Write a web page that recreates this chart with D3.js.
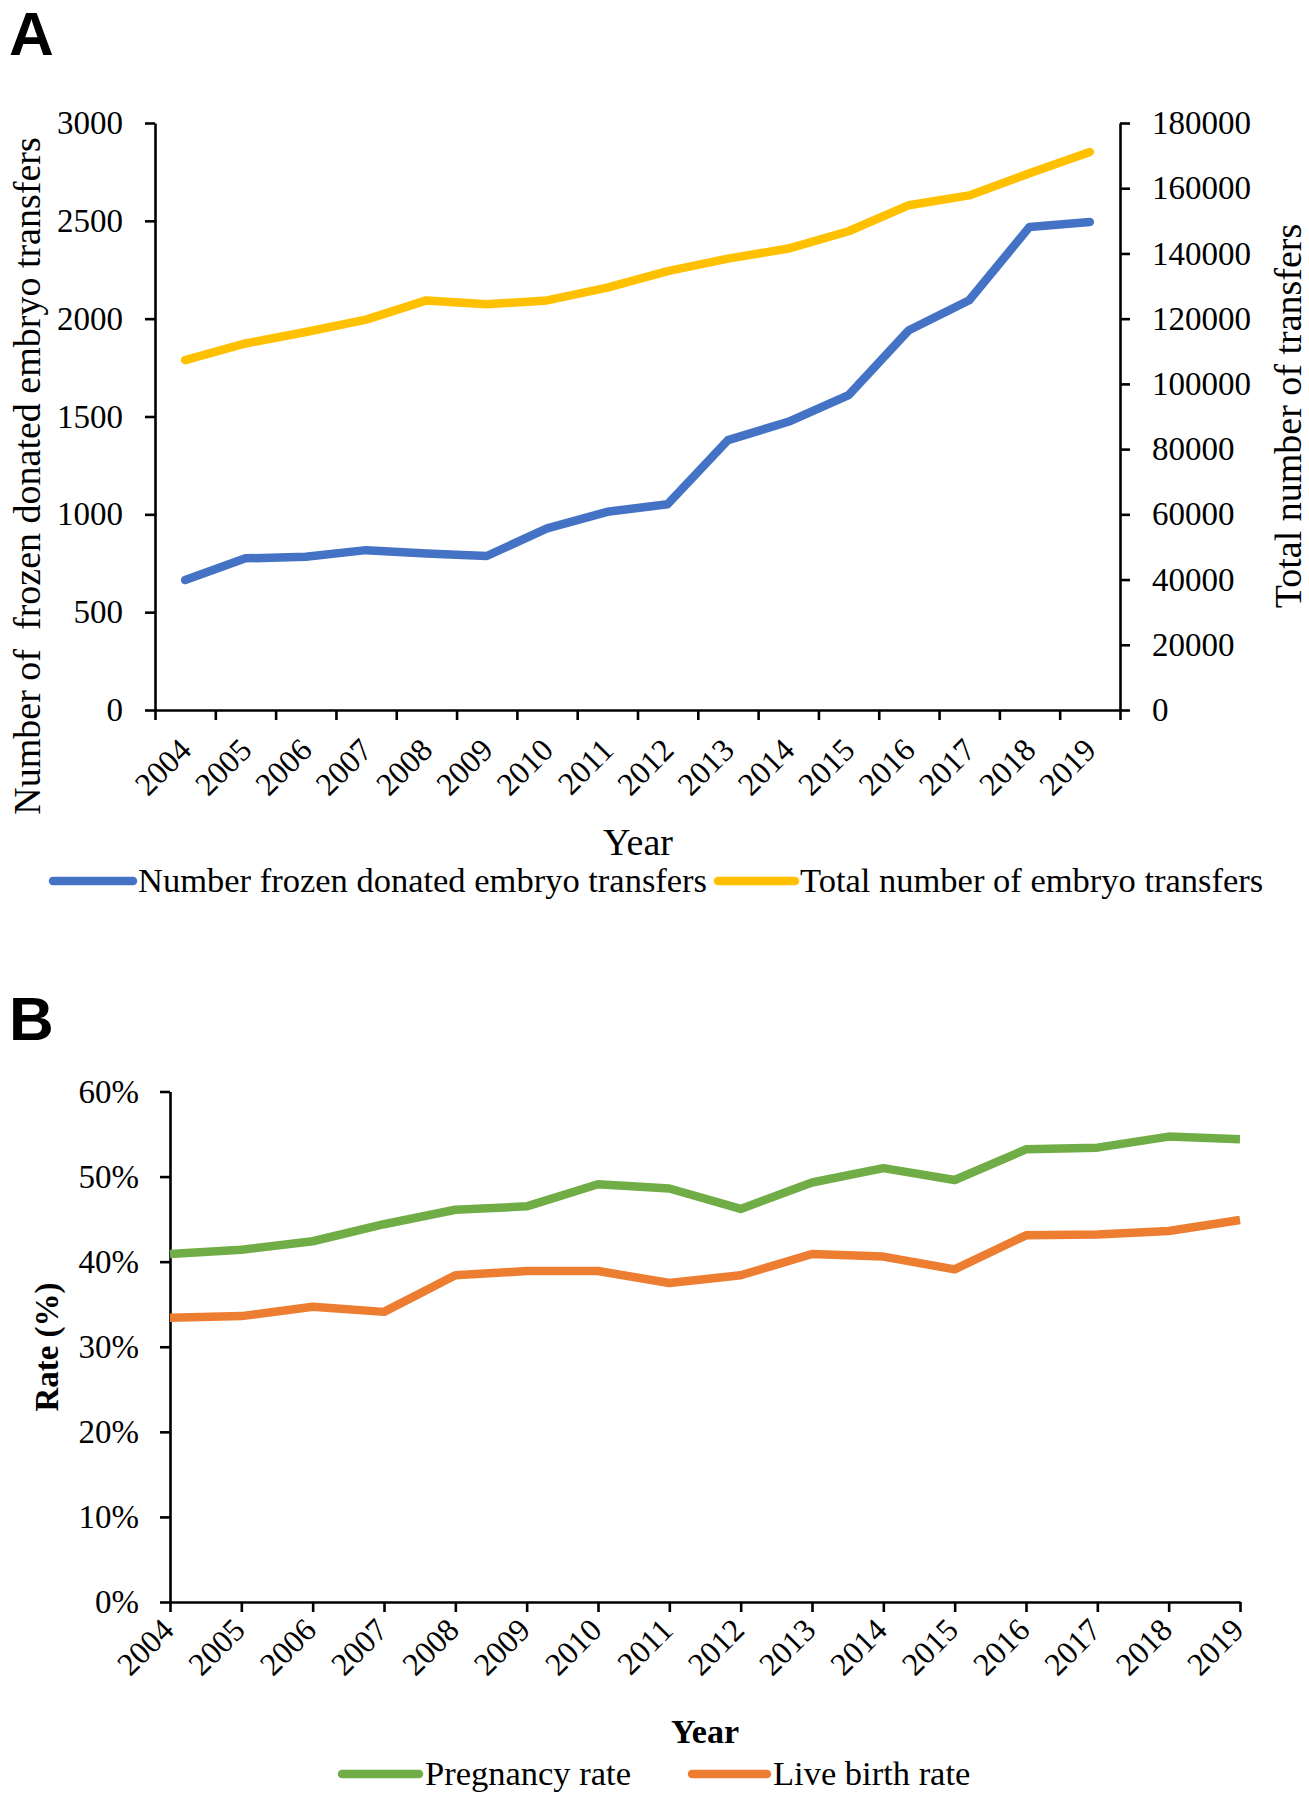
<!DOCTYPE html>
<html>
<head>
<meta charset="utf-8">
<script src="https://cdn.jsdelivr.net/npm/d3@7"></script>
<style>
  body { margin: 0; background: #fff; }
  svg text { font-family: "Liberation Serif", "Times New Roman", serif; fill: #000; }
</style>
</head>
<body>
<svg id="fig" width="1309" height="1800"></svg>
<script>
// ---- data ----
const years = ["2004","2005","2006","2007","2008","2009","2010","2011",
               "2012","2013","2014","2015","2016","2017","2018","2019"];
// panel A
const frozenDonated = [664, 775, 783, 817, 800, 787, 928, 1013, 1052, 1379, 1473, 1609, 1941, 2094, 2469, 2494];
const totalTransfers = [107300, 112400, 115900, 119700, 125600, 124400, 125600, 129500,
                        134600, 138400, 141500, 146800, 154800, 157800, 164600, 171100];
const leftTicksA = [0, 500, 1000, 1500, 2000, 2500, 3000];
const rightTicksA = [0, 20000, 40000, 60000, 80000, 100000, 120000, 140000, 160000, 180000];
// panel B (percent)
const pregnancyRate = [40.9, 41.4, 42.4, 44.4, 46.1, 46.5, 49.1, 48.6, 46.2, 49.3, 51.0, 49.6, 53.2, 53.4, 54.7, 54.4];
const liveBirthRate = [33.4, 33.6, 34.7, 34.1, 38.4, 38.9, 38.9, 37.5, 38.4, 40.9, 40.6, 39.1, 43.1, 43.2, 43.6, 44.9];
const rateTicks = [0, 10, 20, 30, 40, 50, 60];

const svg = d3.select("#fig");
const plain = d3.format("d");

function styleAxis(g, fs) {
  g.attr("font-family", null).attr("font-size", null);
  g.selectAll(".domain, .tick line").attr("stroke", "#000").attr("stroke-width", 2.6);
  g.selectAll("text").style("font-size", fs + "px");
}

// =============== Panel A ===============
const xA = d3.scaleBand().domain(years).range([155, 1120]);
const xAEdge = d3.scaleLinear().domain([0, years.length]).range([155, 1120]);
const yL = d3.scaleLinear().domain([0, 3000]).range([710, 123]);
const yR = d3.scaleLinear().domain([0, 180000]).range([710, 123]);

svg.append("text").attr("x", 9).attr("y", 55)
  .style("font-family", "'Liberation Sans', Arial, sans-serif")
  .style("font-weight", "bold").style("font-size", "62px").text("A");

// band boundary ticks
svg.append("g").attr("transform", "translate(0,710)")
  .call(d3.axisBottom(xAEdge).tickValues(d3.range(years.length + 1)).tickFormat("").tickSize(10).tickSizeOuter(0))
  .call(g => styleAxis(g, 32));

// year labels at band centres
svg.append("g").attr("transform", "translate(0,710)")
  .call(d3.axisBottom(xA).tickSize(0).tickSizeOuter(0))
  .call(g => {
    g.select(".domain").remove();
    styleAxis(g, 32);
    g.selectAll("text").attr("x", 0).attr("y", 0).attr("dy", 0)
      .attr("text-anchor", "end")
      .attr("transform", "translate(8,42) rotate(-45)");
  });

svg.append("g").attr("transform", "translate(155,0)")
  .call(d3.axisLeft(yL).tickValues(leftTicksA).tickFormat(plain).tickSize(10).tickPadding(22).tickSizeOuter(0))
  .call(g => styleAxis(g, 33));

svg.append("g").attr("transform", "translate(1120,0)")
  .call(d3.axisRight(yR).tickValues(rightTicksA).tickFormat(plain).tickSize(10).tickPadding(22).tickSizeOuter(0))
  .call(g => styleAxis(g, 33));

const cx = (i) => xA(years[i]) + xA.bandwidth() / 2;

svg.append("path").datum(totalTransfers)
  .attr("fill", "none").attr("stroke", "#FFC000").attr("stroke-width", 8.5)
  .attr("stroke-linejoin", "round").attr("stroke-linecap", "round")
  .attr("d", d3.line().x((d, i) => cx(i)).y(d => yR(d)));

svg.append("path").datum(frozenDonated)
  .attr("fill", "none").attr("stroke", "#4472C4").attr("stroke-width", 8.5)
  .attr("stroke-linejoin", "round").attr("stroke-linecap", "round")
  .attr("d", d3.line().x((d, i) => cx(i)).y(d => yL(d)));

// axis titles
svg.append("text").attr("transform", "translate(40,476) rotate(-90)")
  .attr("text-anchor", "middle").style("font-size", "38px").attr("xml:space", "preserve")
  .text("Number of  frozen donated embryo transfers");
svg.append("text").attr("transform", "translate(1301,416) rotate(-90)")
  .attr("text-anchor", "middle").style("font-size", "38px")
  .text("Total number of transfers");
svg.append("text").attr("x", 638).attr("y", 855)
  .attr("text-anchor", "middle").style("font-size", "38px").text("Year");

// legend A
const legA = [
  {label: "Number frozen donated embryo transfers", color: "#4472C4", x0: 53, x1: 133},
  {label: "Total number of embryo transfers", color: "#FFC000", x0: 718, x1: 795}
];
legA.forEach(d => {
  svg.append("line").attr("x1", d.x0).attr("x2", d.x1).attr("y1", 881).attr("y2", 881)
    .attr("stroke", d.color).attr("stroke-width", 8.5).attr("stroke-linecap", "round");
  svg.append("text").attr("x", d.x1 + 5).attr("y", 892).style("font-size", "34.5px").text(d.label);
});

// =============== Panel B ===============
const xB = d3.scalePoint().domain(years).range([170, 1240]);
const yB = d3.scaleLinear().domain([0, 60]).range([1602, 1091.5]);

svg.append("text").attr("x", 9).attr("y", 1040)
  .style("font-family", "'Liberation Sans', Arial, sans-serif")
  .style("font-weight", "bold").style("font-size", "62px").text("B");

svg.append("g").attr("transform", "translate(0,1602)")
  .call(d3.axisBottom(xB).tickSize(10).tickSizeOuter(0))
  .call(g => {
    styleAxis(g, 32);
    g.selectAll("text").attr("x", 0).attr("y", 0).attr("dy", 0)
      .attr("text-anchor", "end")
      .attr("transform", "translate(5,30) rotate(-45)");
  });

svg.append("g").attr("transform", "translate(170,0)")
  .call(d3.axisLeft(yB).tickValues(rateTicks).tickFormat(d => d + "%").tickSize(10).tickPadding(21).tickSizeOuter(0))
  .call(g => styleAxis(g, 33));

svg.append("path").datum(pregnancyRate)
  .attr("fill", "none").attr("stroke", "#70AD47").attr("stroke-width", 8.5)
  .attr("stroke-linejoin", "round")
  .attr("d", d3.line().x((d, i) => xB(years[i])).y(d => yB(d)));

svg.append("path").datum(liveBirthRate)
  .attr("fill", "none").attr("stroke", "#ED7D31").attr("stroke-width", 8.5)
  .attr("stroke-linejoin", "round")
  .attr("d", d3.line().x((d, i) => xB(years[i])).y(d => yB(d)));

svg.append("text").attr("transform", "translate(58,1347) rotate(-90)")
  .attr("text-anchor", "middle").style("font-size", "33px").style("font-weight", "bold")
  .text("Rate (%)");
svg.append("text").attr("x", 705).attr("y", 1743)
  .attr("text-anchor", "middle").style("font-size", "34px").style("font-weight", "bold")
  .text("Year");

const legB = [
  {label: "Pregnancy rate", color: "#70AD47", x0: 342, x1: 419},
  {label: "Live birth rate", color: "#ED7D31", x0: 692, x1: 767}
];
legB.forEach(d => {
  svg.append("line").attr("x1", d.x0).attr("x2", d.x1).attr("y1", 1774).attr("y2", 1774)
    .attr("stroke", d.color).attr("stroke-width", 8.5).attr("stroke-linecap", "round");
  svg.append("text").attr("x", d.x1 + 6).attr("y", 1785).style("font-size", "34.5px").text(d.label);
});
</script>
</body>
</html>
